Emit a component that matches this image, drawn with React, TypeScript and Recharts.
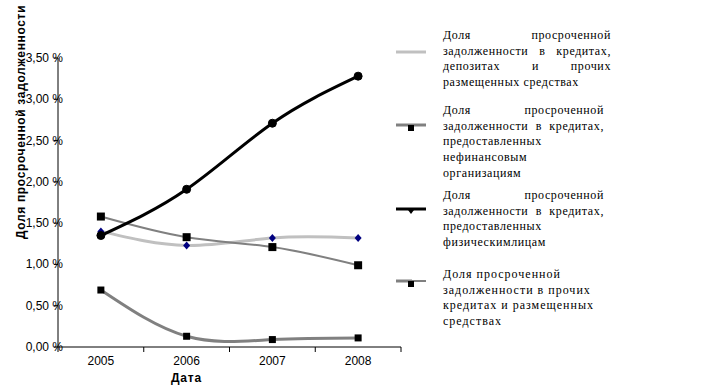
import { LineChart, Line, XAxis, YAxis, Legend } from 'recharts';

const years = [2005, 2006, 2007, 2008];
const yearBounds = [2004.5, 2005.5, 2006.5, 2007.5, 2008.5];
const yTicks = [0, 0.5, 1, 1.5, 2, 2.5, 3, 3.5];

const deposits = [1.4, 1.23, 1.32, 1.32];
const nonFinancial = [1.58, 1.33, 1.21, 0.99];
const individuals = [1.35, 1.91, 2.71, 3.28];
const otherLoans = [0.69, 0.13, 0.09, 0.11];

const depositsName = ['Доля просроченной', 'задолженности в кредитах,', 'депозитах и прочих', 'размещенных средствах'];
const nonFinancialName = ['Доля просроченной', 'задолженности в кредитах,', 'предоставленных', 'нефинансовым', 'организациям'];
const individualsName = ['Доля просроченной', 'задолженности в кредитах,', 'предоставленных', 'физическимлицам'];
const otherLoansName = ['Доля просроченной', 'задолженности в прочих', 'кредитах и размещенных', 'средствах'];

const yAxisTitle = 'Доля просроченной задолженности';
const xAxisTitle = 'Дата';

const data = years.map((year, i) => ({
  year,
  deposits: deposits[i],
  nonFinancial: nonFinancial[i],
  individuals: individuals[i],
  otherLoans: otherLoans[i],
}));

const SANS = "'Liberation Sans', Arial, sans-serif";
const SERIF = "'Liberation Serif', 'Times New Roman', serif";

const fmtPct = (v: number) => `${v.toFixed(2).replace('.', ',')} %`;

const YTick = ({ x, y, payload }: any) => (
  <text x={x} y={y} dx={11} dy={4} textAnchor="end" fontFamily={SANS} fontSize={12} fill="#000">
    {fmtPct(payload.value)}
  </text>
);

const NoTick = () => <g />;

const YTitle = ({ viewBox }: any) => {
  const x = viewBox.x + 25;
  const y = viewBox.y + viewBox.height - 108;
  return (
    <text x={x} y={y} transform={`rotate(-90 ${x} ${y})`} textAnchor="start" fontFamily={SANS} fontWeight="bold" fontSize={12} letterSpacing={0.65} fill="#000">
      {yAxisTitle}
    </text>
  );
};

const Square = ({ cx, cy, size }: any) => <rect x={cx - size / 2} y={cy - size / 2} width={size} height={size} fill="#000" />;
const Diamond = ({ cx, cy }: any) => (
  <polygon points={`${cx},${cy - 4} ${cx + 3.5},${cy} ${cx},${cy + 4} ${cx - 3.5},${cy}`} fill="#000080" />
);

// legend icons, drawn in a 30x12 box
const icons = [
  <line x1={0} y1={6} x2={30} y2={6} stroke="#c0c0c0" strokeWidth={3} />,
  <g>
    <line x1={0} y1={5} x2={30} y2={5} stroke="#808080" strokeWidth={3} />
    <rect x={12} y={5} width={6} height={6} fill="#000" />
  </g>,
  <g>
    <line x1={0} y1={5} x2={30} y2={5} stroke="#000" strokeWidth={3} />
    <polygon points="12,6 18,6 15,10" fill="#000" />
  </g>,
  <g>
    <line x1={0} y1={5} x2={16} y2={5} stroke="#808080" strokeWidth={3} />
    <line x1={16} y1={5} x2={30} y2={5} stroke="#000" strokeWidth={1} />
    <rect x={12} y={5} width={6} height={6} fill="#000" />
  </g>,
];

const legendItems = [
  { lines: depositsName, top: 28, width: 168, justified: 3, iconTop: 46, spacing: 0.6 },
  { lines: nonFinancialName, top: 103, width: 161, justified: 2, iconTop: 120, spacing: 0.6 },
  { lines: individualsName, top: 188, width: 161, justified: 2, iconTop: 204, spacing: 0.6 },
  { lines: otherLoansName, top: 267, width: 175, justified: 0, iconTop: 276, spacing: 1.0 },
];

const LegendBox = () => (
  <div style={{ position: 'relative', width: 240, height: 391, fontFamily: SERIF, fontSize: 12, color: '#000' }}>
    {legendItems.map((item, i) => (
      <div key={i}>
        <svg width={30} height={12} style={{ position: 'absolute', left: 6, top: item.iconTop }}>
          {icons[i]}
        </svg>
        <div style={{ position: 'absolute', left: 53, top: item.top, width: item.width, lineHeight: '15.7px', letterSpacing: item.spacing }}>
          {item.lines.map((line, j) => (
            <div key={j} style={{ textAlign: 'left', textAlignLast: j < item.justified ? 'justify' : 'left', whiteSpace: 'nowrap' }}>
              {line}
            </div>
          ))}
        </div>
      </div>
    ))}
  </div>
);

export default function App() {
  return (
    <div style={{ position: 'absolute', left: 0, top: 0, width: 719, height: 391, background: '#fff' }}>
      <LineChart width={719} height={391} data={data} margin={{ top: 58, right: 318, bottom: 0, left: 0 }}>
        <XAxis
          xAxisId="grid"
          type="number"
          dataKey="year"
          domain={[2004.5, 2008.5]}
          ticks={yearBounds}
          tick={NoTick}
          tickSize={5}
          height={1}
          stroke="#000"
        />
        <XAxis
          xAxisId="year"
          type="number"
          dataKey="year"
          domain={[2004.5, 2008.5]}
          ticks={years}
          axisLine={false}
          tickLine={false}
          tickSize={4}
          tickMargin={4}
          height={43}
          tick={{ fill: '#000', fontSize: 12, fontFamily: SANS }}
          label={{ value: xAxisTitle, position: 'insideBottom', offset: 9, dx: -43, fill: '#000', fontSize: 12, fontWeight: 'bold', fontFamily: SANS, letterSpacing: 0.8 }}
        />
        <YAxis
          domain={[0, 3.5]}
          ticks={yTicks}
          width={58}
          tickSize={4}
          tickMargin={2}
          stroke="#000"
          tick={YTick}
          label={{ content: YTitle }}
        />
        <Legend layout="vertical" align="center" verticalAlign="middle" wrapperStyle={{ left: 390, top: 0, width: 240, height: 391 }} content={LegendBox} />
        <Line xAxisId="year" type="natural" dataKey="deposits" stroke="#c0c0c0" strokeWidth={3} dot={Diamond} isAnimationActive={false} />
        <Line xAxisId="year" type="natural" dataKey="nonFinancial" stroke="#808080" strokeWidth={2} dot={(p: any) => <Square key={p.index} {...p} size={8} />} isAnimationActive={false} />
        <Line xAxisId="year" type="natural" dataKey="individuals" stroke="#000" strokeWidth={3} dot={{ r: 4, fill: '#000', stroke: '#000', strokeWidth: 1 }} isAnimationActive={false} />
        <Line xAxisId="year" type="natural" dataKey="otherLoans" stroke="#808080" strokeWidth={3} dot={(p: any) => <Square key={p.index} {...p} size={7} />} isAnimationActive={false} />
      </LineChart>
    </div>
  );
}
